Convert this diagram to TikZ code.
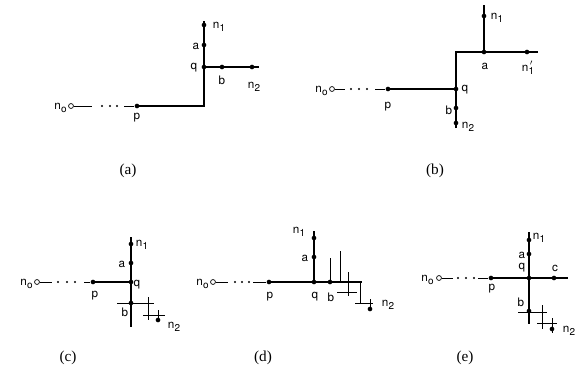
\documentclass[tikz,border=0pt]{standalone}
\usepackage{fontspec}
\setmainfont{Liberation Serif}
\setsansfont{TeX Gyre Heros}
\newcommand{\nsub}[1]{n\kern0.3pt\raisebox{-0.55ex}{\fontsize{8.5}{9}\selectfont #1}}
\newcommand{\nprime}[1]{n\kern0.3pt\rlap{\raisebox{0.2ex}{\kern1pt$'$}}\raisebox{-0.55ex}{\fontsize{8.5}{9}\selectfont #1}}

\begin{document}
\begin{tikzpicture}[x=0.03cm, y=-0.03cm,
    % Estilos de las lineas y de los puntos
    wire/.style={line width=1.5pt},
    lead/.style={line width=0.7pt},
    stair/.style={line width=0.8pt},
    dot/.style={circle, fill=black, inner sep=0pt, minimum size=4pt},
    opendot/.style={circle, draw=black, fill=white, line width=0.6pt, inner sep=0pt, minimum size=4.2pt},
    % Estilos para los textos
    lbl/.style={font=\sffamily\fontsize{10}{11}\selectfont, inner sep=0pt},
    nolbl/.style={font=\sffamily\fontsize{10}{11}\selectfont, inner sep=0pt, anchor=east},
    caption/.style={font=\fontsize{13}{14}\selectfont}
]
\useasboundingbox (0,0) rectangle (580,386);

% --- PANEL (A) ---
\node[opendot] (aNo) at (71,106) {};
\coordinate (aLeadA) at (92,106);
\coordinate (aLeadB) at (124,106);
\node[dot] (aP) at (137,106) {};
\coordinate (aCorner) at (204,106);
\node[dot] (aQ) at (204,67) {};
\node[dot] (aA) at (204,45) {};
\node[dot] (aN1) at (204,25) {};
\coordinate (aTop) at (204,21);
\node[dot] (aB) at (222,67) {};
\node[dot] (aN2) at (252,67) {};
\coordinate (aRight) at (259,67);
\draw[lead] (aNo) -- (aLeadA);
\foreach \x in {102,110,117} \fill (\x,106) circle (0.9pt);
\draw[lead] (aLeadB) -- (aP);
\draw[wire] (aP.center) -- (aCorner) -- (aTop);
\draw[wire] (aQ.center) -- (aRight);
\node[nolbl] (aNoText) at (67,108) {\nsub{o}};
\node[lbl] (aPText) at (137,118) {p};
\node[lbl] (aQText) at (194,68) {q};
\node[lbl] (aAText) at (196,46) {a};
\node[lbl] (aN1Text) at (219,27) {\nsub{1}};
\node[lbl] (aBText) at (222,80) {b};
\node[lbl] (aN2Text) at (254,87) {\nsub{2}};
\node[caption] (capA) at (128,171) {(a)};

% --- PANEL (B) ---
\node[opendot] (bNo) at (332,89) {};
\coordinate (bLeadA) at (345,89);
\coordinate (bLeadB) at (375,89);
\node[dot] (bP) at (388,89) {};
\node[dot] (bQ) at (456,89) {};
\coordinate (bCorner) at (456,52);
\node[dot] (bB) at (456,108) {};
\node[dot] (bN2) at (456,123) {};
\coordinate (bBottom) at (456,128);
\node[dot] (bA) at (484,52) {};
\node[dot] (bN1p) at (527,52) {};
\coordinate (bRight) at (538,52);
\node[dot] (bN1) at (484,16) {};
\coordinate (bTop) at (484,5);
\draw[lead] (bNo) -- (bLeadA);
\foreach \x in {351,359,367} \fill (\x,89) circle (0.9pt);
\draw[lead] (bLeadB) -- (bP);
\draw[wire] (bP.center) -- (bQ.center);
\draw[wire] (bBottom) -- (bCorner) -- (bRight);
\draw[wire] (bA.center) -- (bTop);
\node[nolbl] (bNoText) at (328,91) {\nsub{o}};
\node[lbl] (bPText) at (388,107) {p};
\node[lbl] (bQText) at (465,90) {q};
\node[lbl] (bBText) at (449,110) {b};
\node[lbl] (bN2Text) at (468,127) {\nsub{2}};
\node[lbl] (bAText) at (485,66) {a};
\node[lbl] (bN1pText) at (528,68) {\nprime{1}};
\node[lbl] (bN1Text) at (497,18) {\nsub{1}};
\node[caption] (capB) at (435,171) {(b)};

% --- PANEL (C) ---
\node[opendot] (cNo) at (37,282) {};
\coordinate (cLeadA) at (52,282);
\coordinate (cLeadB) at (84,282);
\node[dot] (cP) at (93,282) {};
\node[dot] (cQ) at (131,282) {};
\node[dot] (cA) at (131,263) {};
\node[dot] (cN1) at (131,244) {};
\coordinate (cTop) at (131,237);
\node[dot] (cB) at (131,303) {};
\coordinate (cBottom) at (131,327);
\draw[lead] (cNo) -- (cLeadA);
\foreach \x in {58,67,75} \fill (\x,282) circle (0.9pt);
\draw[lead] (cLeadB) -- (cP);
\draw[wire] (cP.center) -- (cQ.center);
\draw[wire] (cTop) -- (cBottom);
% escalera
\node[dot] (cN2) at (158,320) {};
\draw[stair] (117,303) -- (154,303);
\draw[stair] (148,297) -- (148,320);
\draw[stair] (143,315) -- (165,315);
\draw[stair] (158,310) -- (cN2.center);
\node[nolbl] (cNoText) at (33,284) {\nsub{o}};
\node[lbl] (cPText) at (95,296) {p};
\node[lbl] (cQText) at (137,285) {q};
\node[lbl] (cAText) at (122,264) {a};
\node[lbl] (cN1Text) at (142,245) {\nsub{1}};
\node[lbl] (cBText) at (125,312) {b};
\node[lbl] (cN2Text) at (174,327) {\nsub{2}};
\node[caption] (capC) at (68,358) {(c)};

% --- PANEL (D) ---
\node[opendot] (dNo) at (213,282) {};
\coordinate (dLeadA) at (228,282);
\coordinate (dLeadB) at (253,282);
\node[dot] (dP) at (269,282) {};
\node[dot] (dQ) at (314,282) {};
\node[dot] (dB) at (330,282) {};
\coordinate (dRight) at (362,282);
\node[dot] (dA) at (314,257) {};
\node[dot] (dN1) at (314,238) {};
\coordinate (dTop) at (314,231);
\draw[lead] (dNo) -- (dLeadA);
\foreach \x in {235,242,249} \fill (\x,282) circle (0.9pt);
\draw[lead] (dLeadB) -- (dP);
\draw[wire] (dP.center) -- (dRight);
\draw[wire] (dQ.center) -- (dTop);
% escalera
\node[dot] (dN2) at (370,309) {};
\draw[stair] (dB.center) -- (330,258);
\draw[stair] (340,282) -- (340,251);
\draw[stair] (348,272) -- (348,296);
\draw[stair] (337,292) -- (357,292);
\draw[stair] (360,283) -- (360,304);
\draw[stair] (355,303) -- (373,303);
\draw[stair] (370,299) -- (dN2.center);
\node[nolbl] (dNoText) at (209,284) {\nsub{o}};
\node[lbl] (dPText) at (270,297) {p};
\node[lbl] (dQText) at (315,297) {q};
\node[lbl] (dBText) at (331,297) {b};
\node[lbl] (dAText) at (305,258) {a};
\node[lbl] (dN1Text) at (299,232) {\nsub{1}};
\node[lbl] (dN2Text) at (388,305) {\nsub{2}};
\node[caption] (capD) at (263,358) {(d)};

% --- PANEL (E) ---
\node[opendot] (eNo) at (439,278) {};
\coordinate (eLeadA) at (453,278);
\coordinate (eLeadB) at (478,278);
\node[dot] (eP) at (491,278) {};
\node[dot] (eQ) at (529,278) {};
\node[dot] (eC) at (554,278) {};
\coordinate (eRight) at (568,278);
\node[dot] (eA) at (529,254) {};
\node[dot] (eN1) at (529,240) {};
\coordinate (eTop) at (529,232);
\node[dot] (eB) at (529,311) {};
\coordinate (eBottom) at (529,324);
\draw[lead] (eNo) -- (eLeadA);
\foreach \x in {458,466,474} \fill (\x,278) circle (0.9pt);
\draw[lead] (eLeadB) -- (eP);
\draw[wire] (eP.center) -- (eRight);
\draw[wire] (eTop) -- (eBottom);
% escalera
\node[dot] (eN2) at (552,329) {};
\draw[stair] (518,312) -- (547,312);
\draw[stair] (542,305) -- (542,329);
\draw[stair] (537,323) -- (557,323);
\draw[stair] (552,318) -- (552,333);
\node[nolbl] (eNoText) at (434,280) {\nsub{o}};
\node[lbl] (ePText) at (492,289) {p};
\node[lbl] (eQText) at (522,268) {q};
\node[lbl] (eCText) at (555,268) {c};
\node[lbl] (eAText) at (522,255) {a};
\node[lbl] (eN1Text) at (539,238) {\nsub{1}};
\node[lbl] (eBText) at (521,302) {b};
\node[lbl] (eN2Text) at (569,331) {\nsub{2}};
\node[caption] (capE) at (465,358) {(e)};

\end{tikzpicture}
\end{document}
